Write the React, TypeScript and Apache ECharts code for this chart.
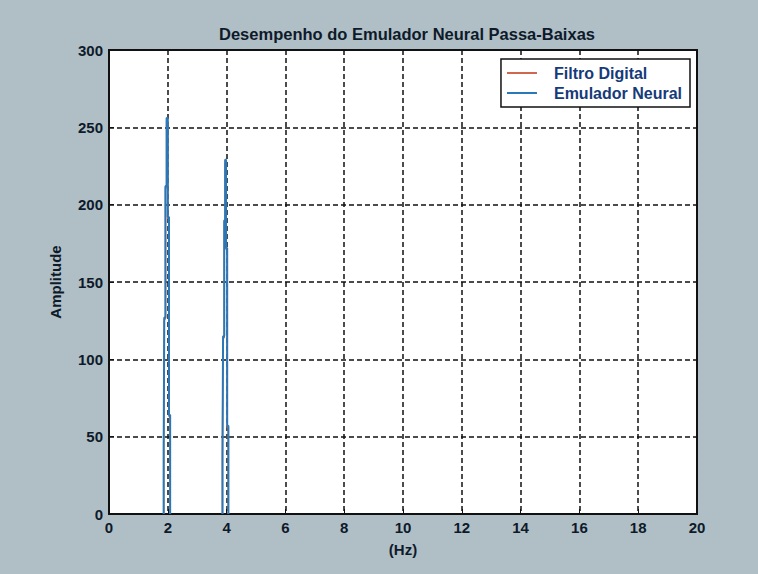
import React, { useEffect, useRef } from "react";
import * as echarts from "echarts";

const title = "Desempenho do Emulador Neural Passa-Baixas";
const xTicks = { min: 0, max: 20, interval: 2 };
const yTicks = { min: 0, max: 300, interval: 50 };
const seriesNames = ["Filtro Digital", "Emulador Neural"];

// Emulador Neural (blue): stepped spikes near 2 Hz and 4 Hz (null = gap between spikes)
const neuralFreq = [
  1.86, 1.86, 1.88, 1.88, 1.92, 1.92, 1.96, 1.96, 2.0, 2.0, 2.04, 2.04, 2.08, 2.08, null,
  3.86, 3.86, 3.88, 3.88, 3.92, 3.92, 3.95, 3.95, 3.98, 3.98, 4.02, 4.02, 4.06, 4.06,
];
const neuralAmp = [
  0, 43, 43, 127, 127, 212, 212, 256, 256, 192, 192, 64, 64, 0, null,
  0, 38, 38, 115, 115, 190, 190, 229, 229, 172, 172, 57, 57, 0,
];

// Filtro Digital (red): coincides with the emulator's trace and is hidden beneath it
const filterFreq = [
  1.86, 1.86, 1.88, 1.88, 1.92, 1.92, 1.96, 1.96, 2.0, 2.0, 2.04, 2.04, 2.08, 2.08, null,
  3.86, 3.86, 3.88, 3.88, 3.92, 3.92, 3.95, 3.95, 3.98, 3.98, 4.02, 4.02, 4.06, 4.06,
];
const filterAmp = [
  0, 42, 42, 126, 126, 211, 211, 254, 254, 191, 191, 63, 63, 0, null,
  0, 37, 37, 114, 114, 189, 189, 227, 227, 171, 171, 56, 56, 0,
];

const FONT = "'Liberation Sans', Arial, sans-serif";
const INK = "#0e1a2a";

export default function App() {
  const ref = useRef<HTMLDivElement>(null);
  useEffect(() => {
    if (!ref.current) return;
    const chart = echarts.init(ref.current, null, { renderer: "svg" });
    const toData = (fs: (number | null)[], as: (number | null)[]) =>
      fs.map((f, i) => (f === null ? [null, null] : [f, as[i]]));
    const dashed = { color: "#111", width: 1.5, type: [5, 3] as any };
    chart.setOption({
      animation: false,
      backgroundColor: "#b0bfc6",
      title: {
        text: title,
        left: 402,
        textAlign: "center",
        top: 20,
        textStyle: { fontFamily: FONT, fontSize: 16.5, fontWeight: "bold", color: INK },
      },
      legend: {
        data: seriesNames,
        orient: "vertical",
        right: 68,
        top: 59,
        backgroundColor: "#fff",
        borderColor: "#111",
        borderWidth: 1.5,
        borderRadius: 0,
        padding: [6, 8, 6, 6],
        itemGap: 4,
        itemWidth: 30,
        itemHeight: 2,
        icon: "rect",
        textStyle: { fontFamily: FONT, fontSize: 16, fontWeight: "bold", color: "#163a7a", padding: [0, 0, 0, 12] },
      },
      grid: {
        left: 109,
        right: 61,
        top: 50,
        bottom: 60,
        show: true,
        backgroundColor: "#ffffff",
        borderColor: "#111",
        borderWidth: 2,
      },
      xAxis: {
        type: "value",
        ...xTicks,
        name: "(Hz)",
        nameLocation: "middle",
        nameGap: 28,
        nameTextStyle: { fontFamily: FONT, fontSize: 15, fontWeight: "bold", color: INK },
        axisLine: { lineStyle: { color: "#111", width: 2 } },
        axisTick: { inside: true, length: 5, lineStyle: { color: "#111" } },
        axisLabel: { fontFamily: FONT, fontSize: 15, fontWeight: "bold", color: INK, margin: 6 },
        splitLine: { show: true, lineStyle: dashed },
      },
      yAxis: {
        type: "value",
        ...yTicks,
        name: "Amplitude",
        nameLocation: "middle",
        nameGap: 46,
        nameTextStyle: { fontFamily: FONT, fontSize: 15, fontWeight: "bold", color: INK },
        axisLine: { show: true, lineStyle: { color: "#111", width: 2 } },
        axisTick: { show: true, inside: true, length: 5, lineStyle: { color: "#111" } },
        axisLabel: { fontFamily: FONT, fontSize: 15, fontWeight: "bold", color: INK, margin: 6 },
        splitLine: { show: true, lineStyle: dashed },
      },
      series: [
        {
          name: seriesNames[0],
          type: "line",
          data: toData(filterFreq, filterAmp),
          showSymbol: false,
          connectNulls: false,
          color: "#d2674f",
          lineStyle: { width: 1.5, color: "#d2674f" },
        },
        {
          name: seriesNames[1],
          type: "line",
          data: toData(neuralFreq, neuralAmp),
          showSymbol: false,
          connectNulls: false,
          color: "#2b78b8",
          lineStyle: { width: 2, color: "#2b78b8" },
        },
      ],
    });
    return () => chart.dispose();
  }, []);
  return (
    <div
      ref={ref}
      style={{ position: "absolute", left: 0, top: 0, width: 758, height: 574 }}
    />
  );
}
